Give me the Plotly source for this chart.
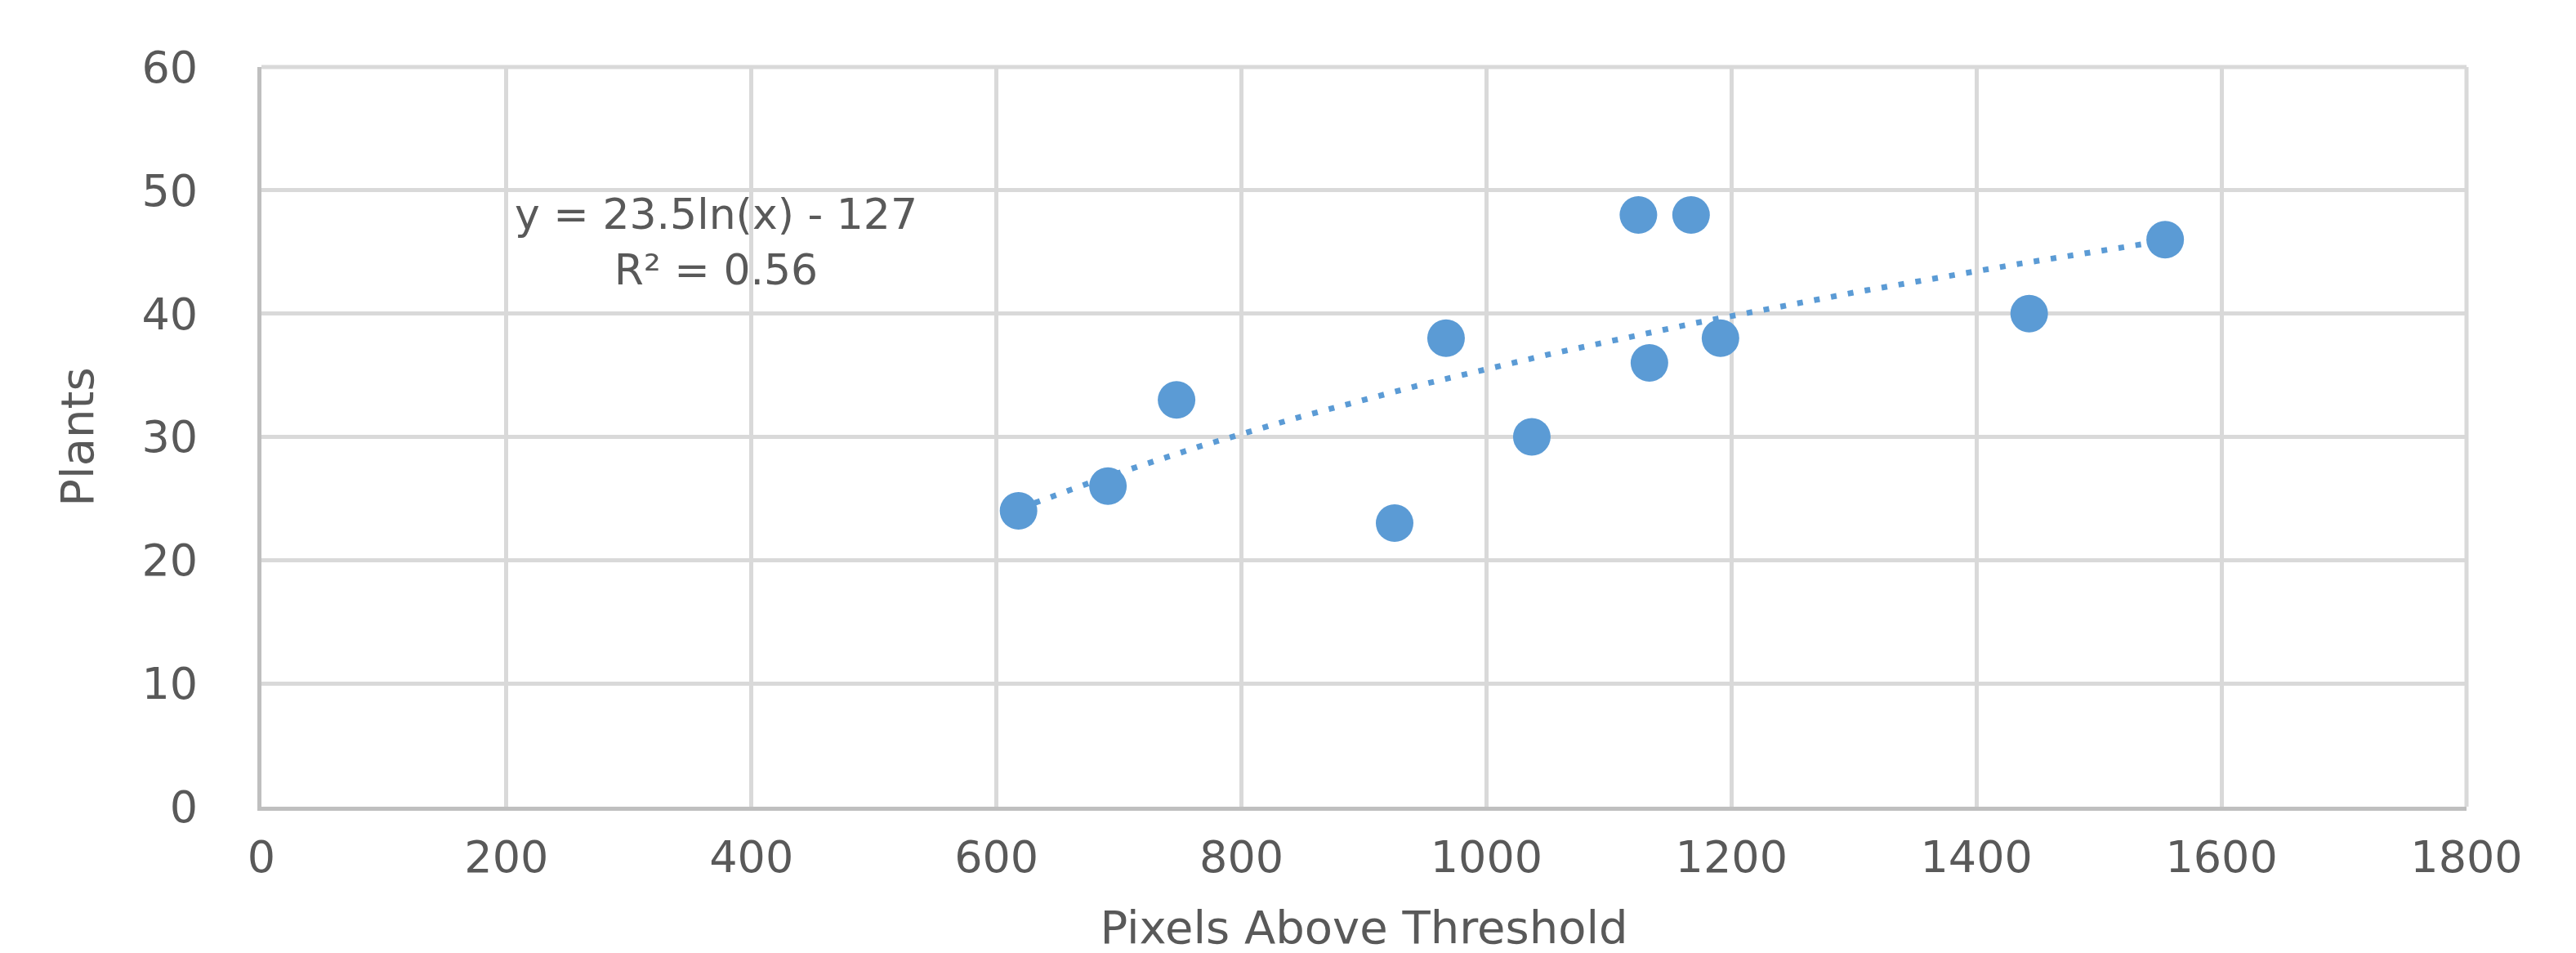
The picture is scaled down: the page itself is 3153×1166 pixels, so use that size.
import numpy as np
import plotly.graph_objects as go

# Data
pixels = [618, 691, 747, 925, 967, 1037, 1124, 1133, 1167, 1191, 1443, 1554]
plants = [24, 26, 33, 23, 38, 30, 48, 36, 48, 38, 40, 46]

x_ticks = [0, 200, 400, 600, 800, 1000, 1200, 1400, 1600, 1800]
y_ticks = [0, 10, 20, 30, 40, 50, 60]

eq_text = "y = 23.5ln(x) - 127<br>R² = 0.56"

# Logarithmic trendline (least-squares fit, as the spreadsheet does)
px_arr = np.array(pixels, dtype=float)
pl_arr = np.array(plants, dtype=float)
a, b = np.polyfit(np.log(px_arr), pl_arr, 1)
tx = np.linspace(px_arr.min(), px_arr.max(), 200)
ty = a * np.log(tx) + b

BLUE = "#5B9BD5"
TXT = "#595959"
GRID = "#D9D9D9"
FONT = "DejaVu Sans"

fig = go.Figure()
fig.add_trace(go.Scatter(
    x=tx, y=ty, mode="lines",
    line=dict(color=BLUE, width=7, dash="7px,14px"),
    hoverinfo="skip", showlegend=False,
))
fig.add_trace(go.Scatter(
    x=pixels, y=plants, mode="markers",
    marker=dict(color=BLUE, size=46, line=dict(width=0)),
    showlegend=False,
))

fig.add_annotation(
    x=371, y=45.8, xref="x", yref="y", text=eq_text, showarrow=False,
    font=dict(family=FONT, size=52, color=TXT), align="center",
)

# top and right frame lines (grid-coloured, as in the reference)
fig.add_shape(type="line", xref="paper", yref="paper", x0=0, x1=1, y0=1, y1=1,
              line=dict(color=GRID, width=5), layer="below")
fig.add_shape(type="line", xref="paper", yref="paper", x0=1, x1=1, y0=0, y1=1,
              line=dict(color=GRID, width=5), layer="below")

fig.update_layout(
    width=3153, height=1166,
    margin=dict(l=312, r=142, t=74, b=187),
    paper_bgcolor="white", plot_bgcolor="white",
    font=dict(family=FONT, color=TXT),
)
fig.update_xaxes(
    range=[0, 1800], tickvals=x_ticks, ticktext=[str(v) for v in x_ticks],
    showgrid=True, gridcolor=GRID, gridwidth=5,
    showline=True, linecolor="#BFBFBF", linewidth=5,
    zeroline=False, ticks="", ticklabelstandoff=10,
    tickfont=dict(family=FONT, size=54, color=TXT),
    title=dict(text="Pixels Above Threshold", standoff=38,
               font=dict(family=FONT, size=56, color=TXT)),
)
fig.update_yaxes(
    range=[0, 60], tickvals=y_ticks, ticktext=[str(v) for v in y_ticks],
    showgrid=True, gridcolor=GRID, gridwidth=5,
    showline=True, linecolor="#BFBFBF", linewidth=5,
    zeroline=False, ticks="", ticklabelstandoff=62,
    tickfont=dict(family=FONT, size=54, color=TXT),
    title=dict(text="Plants", standoff=42,
               font=dict(family=FONT, size=56, color=TXT)),
)

fig.write_html("out.html")
